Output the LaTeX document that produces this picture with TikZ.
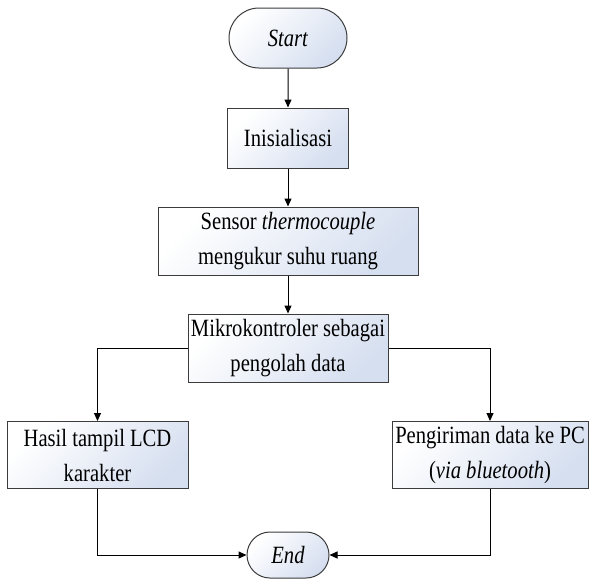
\documentclass[tikz,border=0pt]{standalone}
\usepackage{fontspec}
\setmainfont{Liberation Serif}[FakeStretch=0.83]
\usetikzlibrary{shapes.misc,arrows.meta}
\definecolor{boxfill}{RGB}{214,223,240}
\definecolor{boxline}{RGB}{60,60,60}

\begin{document}
\begin{tikzpicture}[x=0.6pt,y=-0.6pt,
  every node/.append style={draw=boxline, line width=0.6pt, align=center, inner sep=0pt,
    font=\fontsize{14.9}{21}\selectfont, top color=white, bottom color=boxfill, shading angle=45},
  terminal/.style={rounded rectangle},
  process/.style={rectangle},
  flow/.style={draw=black, line width=0.6pt, -{Triangle[length=4.8pt,width=4.2pt]}}]
\useasboundingbox (0,0) rectangle (589,582);

\node[terminal, minimum width=70.8pt, minimum height=36pt] (start) at (288,38) {\textit{Start}};
\node[process, minimum width=72.6pt, minimum height=36pt] (init) at (288,138) {Inisialisasi};
\node[process, minimum width=156pt, minimum height=40.8pt] (sensor) at (288,241)
  {Sensor \textit{thermocouple}\\mengukur suhu ruang};
\node[process, minimum width=120pt, minimum height=40.8pt] (mikro) at (288,348)
  {Mikrokontroler sebagai\\pengolah data};
\node[process, minimum width=108.6pt, minimum height=40.2pt] (lcd) at (97.5,455)
  {Hasil tampil LCD\\karakter};
\node[process, minimum width=117.6pt, minimum height=40.2pt] (kirim) at (490,455)
  {Pengiriman data ke PC\\(\textit{via bluetooth})};
\node[terminal, minimum width=49.2pt, minimum height=27.6pt] (end) at (288,555) {\textit{End}};

% alur
\draw[flow] (start) -- (init);
\draw[flow] (init) -- (sensor);
\draw[flow] (sensor) -- (mikro);
\draw[flow] (mikro.west) -| (lcd);
\draw[flow] (mikro.east) -| (kirim);
\draw[flow] (lcd) |- (end);
\draw[flow] (kirim) |- (end);
\end{tikzpicture}
\end{document}
